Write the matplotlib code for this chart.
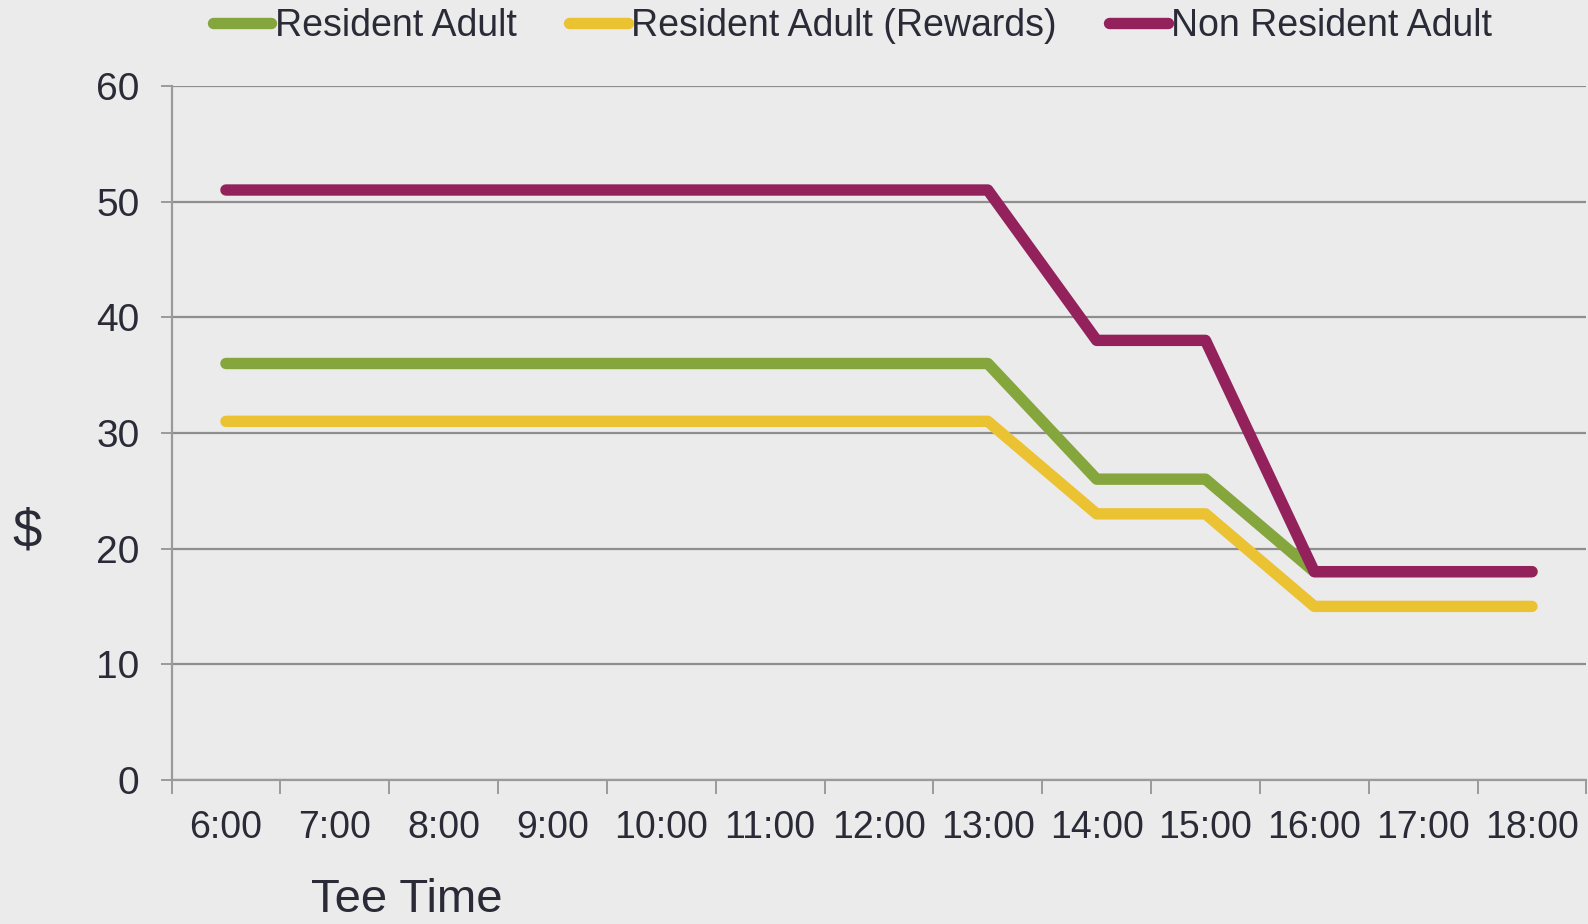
import numpy as np
from matplotlib import pyplot as plt
from matplotlib.ticker import FixedLocator

plt.rcParams['font.family'] = ['Liberation Sans', 'DejaVu Sans']

times = ['6:00', '7:00', '8:00', '9:00', '10:00', '11:00', '12:00',
         '13:00', '14:00', '15:00', '16:00', '17:00', '18:00']
resident = [36, 36, 36, 36, 36, 36, 36, 36, 26, 26, 18, 18, 18]
rewards = [31, 31, 31, 31, 31, 31, 31, 31, 23, 23, 15, 15, 15]
non_resident = [51, 51, 51, 51, 51, 51, 51, 51, 38, 38, 18, 18, 18]
yticks = [0, 10, 20, 30, 40, 50, 60]

bg = '#EBEBEB'
txt = '#2B2B38'
grid = '#8E8E8E'

fig = plt.figure(figsize=(15.88, 9.24), dpi=100, facecolor=bg)
ax = fig.add_axes([0.108, 0.156, 0.891, 0.751])
ax.set_facecolor(bg)

x = np.arange(len(times))
kw = dict(linewidth=8.2, solid_capstyle='round', solid_joinstyle='round')
ax.plot(x, resident, color='#84A63C', label='Resident Adult', **kw)
ax.plot(x, rewards, color='#EBC232', label='Resident Adult (Rewards)', **kw)
ax.plot(x, non_resident, color='#93215C', label='Non Resident Adult', **kw)

ax.set_xlim(-0.5, len(times) - 0.5)
ax.set_ylim(0, 60)
ax.set_yticks(yticks)
ax.set_xticks(x)
ax.set_xticklabels(times)
ax.xaxis.set_minor_locator(FixedLocator(np.arange(-0.5, len(times), 1.0)))

ax.yaxis.grid(True, color=grid, linewidth=1.6)
ax.set_axisbelow(True)
for s in ['top', 'right']:
    ax.spines[s].set_visible(False)
for s in ['left', 'bottom']:
    ax.spines[s].set_color('#9A9A9A')
    ax.spines[s].set_linewidth(1.6)

ax.tick_params(axis='x', which='major', length=0, pad=22, labelsize=27, labelcolor=txt)
ax.tick_params(axis='x', which='minor', length=10, width=1.4, color='#9A9A9A')
ax.tick_params(axis='y', length=8, width=1.4, color='#9A9A9A', pad=15,
               labelsize=28, labelcolor=txt)

fig.text(0.008, 0.424, '$', fontsize=38, color=txt, va='center', ha='left')
fig.text(0.256, 0.026, 'Tee Time', fontsize=34, color=txt, va='center', ha='center')

fig.legend(loc='center', bbox_to_anchor=(0.537, 0.972), ncol=3, frameon=False,
           fontsize=27, handlelength=1.55, handletextpad=0.1, columnspacing=1.4,
           labelcolor=txt, borderaxespad=0)

plt.savefig('out.png', facecolor=bg)
